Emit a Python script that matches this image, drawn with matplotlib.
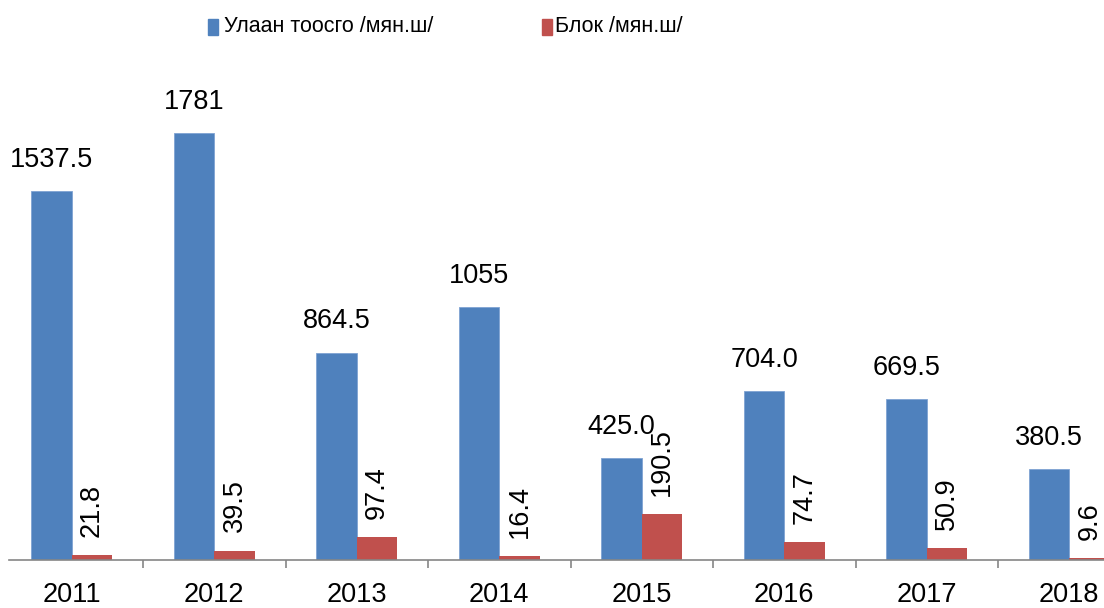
import matplotlib
matplotlib.use("Agg")
import matplotlib.pyplot as plt
from matplotlib import font_manager
from matplotlib.patches import Rectangle
import numpy as np

# Data
years = ["2011", "2012", "2013", "2014", "2015", "2016", "2017", "2018"]
brick = [1537.5, 1781, 864.5, 1055, 425.0, 704.0, 669.5, 380.5]
brick_labels = ["1537.5", "1781", "864.5", "1055", "425.0", "704.0", "669.5", "380.5"]
block = [21.8, 39.5, 97.4, 16.4, 190.5, 74.7, 50.9, 9.6]
block_labels = ["21.8", "39.5", "97.4", "16.4", "190.5", "74.7", "50.9", "9.6"]
series_names = ["Улаан тоосго /мян.ш/", "Блок /мян.ш/"]

blue = "#4F81BD"
red = "#C0504D"

installed = {f.name for f in font_manager.fontManager.ttflist}
main_font = "Liberation Sans" if "Liberation Sans" in installed else "DejaVu Sans"
narrow_font = "Liberation Sans Narrow" if "Liberation Sans Narrow" in installed else None
plt.rcParams["font.family"] = [main_font, "DejaVu Sans"]

W, H = 1104, 608
fig = plt.figure(figsize=(W / 100, H / 100), dpi=100)
# axes: bottom at y=560px, top at y=80px, full width
ax = fig.add_axes([0, (H - 560) / H, 1, (560 - 80) / H])

x = np.arange(len(years))
bw = 0.284
b1 = ax.bar(x - bw / 2, brick, bw, color=blue, edgecolor="#7FA3D3", linewidth=0.6)
b2 = ax.bar(x + bw / 2, block, bw, color=red, linewidth=0)

for rect, lab in zip(b1, brick_labels):
    ax.annotate(lab, (rect.get_x() + rect.get_width() / 2, rect.get_height()),
                xytext=(0, 13), textcoords="offset points",
                ha="center", va="bottom", fontsize=19.5, color="black")
for rect, lab in zip(b2, block_labels):
    ax.annotate(lab, (rect.get_x() + rect.get_width() / 2, rect.get_height()),
                xytext=(0, 13), textcoords="offset points",
                ha="center", va="bottom", rotation=90, fontsize=19.5, color="black")

group_px = 142.5
x0 = -0.5 - 0.5 / group_px
ax.set_xlim(x0, x0 + W / group_px)
ax.set_ylim(0, 2000)

for s in ["top", "right", "left"]:
    ax.spines[s].set_visible(False)
ax.spines["bottom"].set_color("#868686")
ax.spines["bottom"].set_linewidth(1.2)
ax.spines["bottom"].set_bounds(x0 + 9 / group_px, x0 + W / group_px)

ax.set_yticks([])
ax.set_xticks(x)
ax.set_xticklabels(years, fontsize=19.5)
ax.tick_params(axis="x", which="major", length=0, pad=16)
ax.set_xticks(np.arange(len(years) - 1) + 0.5, minor=True)
ax.tick_params(axis="x", which="minor", length=6, width=1.2, color="#868686")

# legend drawn by hand
if narrow_font:
    leg_font = dict(fontsize=17, family=[narrow_font, "DejaVu Sans"])
else:
    leg_font = dict(fontsize=15.5)
fig.add_artist(Rectangle((208 / W, 1 - 35 / H), 10 / W, 16 / H,
                         transform=fig.transFigure, color=blue))
fig.text(224 / W, 1 - 27 / H, series_names[0], va="center", ha="left", **leg_font)
fig.add_artist(Rectangle((542 / W, 1 - 35 / H), 10 / W, 16 / H,
                         transform=fig.transFigure, color=red))
fig.text(555 / W, 1 - 27 / H, series_names[1], va="center", ha="left", **leg_font)

fig.savefig("out.png", dpi=100)
